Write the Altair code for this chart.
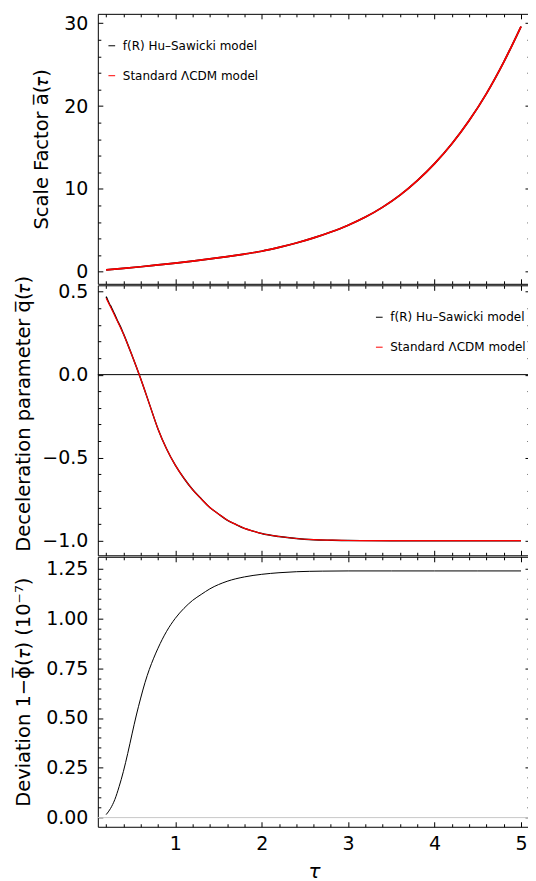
import altair as alt
import pandas as pd

# ---------------- data ----------------
models = ["f(R) Hu\u2013Sawicki model", "Standard \u039bCDM model"]
model_colors = ["black", "red"]

# Panel 1: scale factor a(tau)
tau_a = [0.2, 0.4, 0.6, 0.8, 1.0, 1.2, 1.4, 1.6, 1.8, 2.0, 2.2, 2.4, 2.6,
         2.8, 3.0, 3.2, 3.4, 3.6, 3.8, 4.0, 4.2, 4.4, 4.6, 4.8, 5.0]
a_lcdm = [0.22, 0.40, 0.60, 0.82, 1.04, 1.28, 1.54, 1.82, 2.13, 2.47, 2.93,
          3.46, 4.08, 4.80, 5.62, 6.60, 7.80, 9.25, 11.0, 13.05, 15.45,
          18.25, 21.5, 25.3, 29.6]
a_fr = [0.22, 0.40, 0.60, 0.82, 1.04, 1.28, 1.54, 1.82, 2.13, 2.47, 2.93,
        3.46, 4.08, 4.80, 5.62, 6.60, 7.80, 9.25, 11.0, 13.05, 15.45,
        18.25, 21.5, 25.3, 29.6]

# Panel 2: deceleration parameter q(tau)
tau_q = [0.2, 0.3, 0.4, 0.5, 0.6, 0.7, 0.8, 0.9, 1.0, 1.1, 1.2, 1.3, 1.4,
         1.5, 1.6, 1.7, 1.8, 1.9, 2.0, 2.2, 2.4, 2.6, 2.8, 3.0, 3.5, 4.0,
         4.5, 5.0]
q_lcdm = [0.46, 0.355, 0.245, 0.115, -0.025, -0.176, -0.327, -0.448, -0.545,
          -0.624, -0.692, -0.748, -0.800, -0.839, -0.876, -0.902, -0.926,
          -0.942, -0.957, -0.975, -0.987, -0.994, -0.997, -0.999, -1.0, -1.0,
          -1.0, -1.0]
tau_q_fr = [0.2, 0.22, 0.24, 0.26, 0.28, 0.3, 0.33, 0.36, 0.4, 0.5, 0.6, 0.7,
            0.8, 0.9, 1.0, 1.1, 1.2, 1.3, 1.4, 1.5, 1.6, 1.7, 1.8, 1.9, 2.0,
            2.2, 2.4, 2.6, 2.8, 3.0, 3.5, 4.0, 4.5, 5.0]
q_fr = [0.47, 0.447, 0.424, 0.406, 0.383, 0.362, 0.326, 0.295, 0.247, 0.115,
        -0.025, -0.176, -0.327, -0.448, -0.545, -0.624, -0.692, -0.748, -0.800,
        -0.839, -0.876, -0.902, -0.926, -0.942, -0.957, -0.975, -0.987, -0.994,
        -0.997, -0.999, -1.0, -1.0, -1.0, -1.0]

# Panel 3: deviation 1 - phi(tau), units of 1e-7
tau_dev = [0.2, 0.25, 0.3, 0.35, 0.4, 0.45, 0.5, 0.55, 0.6, 0.65, 0.7, 0.75,
           0.8, 0.9, 1.0, 1.1, 1.2, 1.3, 1.4, 1.6, 1.8, 2.0, 2.2, 2.4, 2.7,
           3.0, 3.5, 4.0, 4.5, 5.0]
dev_fr = [0.015, 0.045, 0.09, 0.155, 0.232, 0.322, 0.42, 0.515, 0.6, 0.678,
          0.744, 0.80, 0.85, 0.935, 1.0, 1.05, 1.09, 1.12, 1.148, 1.186, 1.208,
          1.221, 1.229, 1.234, 1.237, 1.238, 1.238, 1.238, 1.238, 1.238]
zero_line = [0.0]

# ticks
x_major = [1, 2, 3, 4, 5]
x_minor = [0.2, 0.4, 0.6, 0.8, 1.2, 1.4, 1.6, 1.8, 2.2, 2.4, 2.6, 2.8, 3.2,
           3.4, 3.6, 3.8, 4.2, 4.4, 4.6, 4.8]
y1_major = [0, 10, 20, 30]
y1_minor = [2, 4, 6, 8, 12, 14, 16, 18, 22, 24, 26, 28]
y2_major = [-1.0, -0.5, 0.0, 0.5]
y2_minor = [-0.9, -0.8, -0.7, -0.6, -0.4, -0.3, -0.2, -0.1, 0.1, 0.2, 0.3, 0.4]
y3_major = [0.0, 0.25, 0.5, 0.75, 1.0, 1.25]
y3_minor = [0.05, 0.1, 0.15, 0.2, 0.3, 0.35, 0.4, 0.45, 0.55, 0.6, 0.65, 0.7,
            0.8, 0.85, 0.9, 0.95, 1.05, 1.1, 1.15, 1.2]

X_DOMAIN = [0.104, 5.104]
Y1_DOMAIN = [-1.46, 31.13]
Y2_DOMAIN = [-1.088, 0.538]
Y3_DOMAIN = [-0.046, 1.309]

W, H = 433, 270.5
MAJ, MIN = 5, 3
FONT = "DejaVu Sans"
GAP = -14  # absorbs the long rotated title of the middle panel


def ax(orient, values, size, labels=False, fmt=None, title=None, **kw):
    d = dict(orient=orient, values=values, tickSize=size, offset=-size,
             labels=labels, title=title)
    if fmt:
        d["format"] = fmt
    d.update(kw)
    return alt.Axis(**d)


def legend(x, y):
    return alt.Legend(orient="none", legendX=x, legendY=y, title=None,
                      direction="vertical", symbolType="stroke", symbolSize=45,
                      symbolStrokeWidth=1, labelOffset=5, rowPadding=18,
                      padding=0, labelFontSize=12, labelFont=FONT)


def framed_panel(df_main, y_domain, y_major, y_minor, y_fmt, y_title,
                 title_pad, x_labels, data_layers, title_y=None):
    xs = alt.Scale(domain=X_DOMAIN, nice=False, zero=False)
    ys = alt.Scale(domain=y_domain, nice=False, zero=False)
    xt = dict(labels=True, fmt="d", title="\u03c4", titleFontStyle="italic",
              titleFontSize=20, titlePadding=8, labelPadding=8) \
        if x_labels else {}
    yt = dict(labels=True, fmt=y_fmt, title=y_title, titlePadding=title_pad)
    if title_y is not None:
        yt["titleY"] = title_y
    specs = [
        (ax("bottom", x_major, MAJ, **xt), ax("left", y_major, MAJ, **yt)),
        (ax("bottom", x_minor, MIN), ax("left", y_minor, MIN)),
        (ax("top", x_major, MAJ), ax("right", y_major, MAJ)),
        (ax("top", x_minor, MIN), ax("right", y_minor, MIN)),
    ]
    tick_layers = [
        alt.Chart(df_main).mark_line(strokeOpacity=0).encode(
            x=alt.X("tau:Q", scale=xs, axis=xa),
            y=alt.Y("value:Q", scale=ys, axis=ya),
        )
        for xa, ya in specs
    ]
    layers = tick_layers + [lay(xs, ys) for lay in data_layers]
    return alt.layer(*layers).resolve_axis(x="independent", y="independent") \
        .properties(width=W, height=H)


def line_layer(df, width, leg, color_value=None):
    def make(xs, ys):
        enc = dict(x=alt.X("tau:Q", scale=xs, axis=None),
                   y=alt.Y("value:Q", scale=ys, axis=None))
        if leg is not None:
            enc["color"] = alt.Color("model:N",
                                     scale=alt.Scale(domain=models,
                                                     range=model_colors),
                                     legend=leg)
            return alt.Chart(df).mark_line(strokeWidth=width,
                                           interpolate="monotone").encode(**enc)
        return alt.Chart(df).mark_line(strokeWidth=width, color=color_value,
                                       interpolate="monotone").encode(**enc)
    return make


def zero_layer(color):
    def make(xs, ys):
        return alt.Chart(pd.DataFrame({"value": zero_line})).mark_rule(
            color=color, strokeWidth=1).encode(
            y=alt.Y("value:Q", scale=ys, axis=None))
    return make


# panel 1
df_a_fr = pd.DataFrame({"tau": tau_a, "value": a_fr, "model": models[0]})
df_a_l = pd.DataFrame({"tau": tau_a, "value": a_lcdm, "model": models[1]})
leg1 = legend(8, 26)
p1 = framed_panel(df_a_l, Y1_DOMAIN, y1_major, y1_minor, "d",
                  "Scale Factor a\u0305(\U0001D70F)", 12, False,
                  [line_layer(df_a_fr, 1.7, leg1), line_layer(df_a_l, 1.7, leg1)])

# panel 2
df_q_fr = pd.DataFrame({"tau": tau_q_fr, "value": q_fr, "model": models[0]})
df_q_l = pd.DataFrame({"tau": tau_q, "value": q_lcdm, "model": models[1]})
leg2 = legend(276, 26)
p2 = framed_panel(df_q_l, Y2_DOMAIN, y2_major, y2_minor, ".1f",
                  "Deceleration parameter q\u0305(\U0001D70F)", 8, False,
                  [zero_layer("black"), line_layer(df_q_fr, 1.4, leg2),
                   line_layer(df_q_l, 1.2, leg2)], title_y=H / 2 - 7)

# panel 3
df_dev = pd.DataFrame({"tau": tau_dev, "value": dev_fr})
p3 = framed_panel(df_dev, Y3_DOMAIN, y3_major, y3_minor, ".2f",
                  "Deviation 1\u2212\u03d5\u0305(\U0001D70F) (10\u207b\u2077)", 12, True,
                  [zero_layer("#c8c8c8"), line_layer(df_dev, 1.0, None, "black")])

chart = alt.vconcat(p1, p2, p3, spacing=GAP).resolve_scale(
    color="independent").resolve_legend(color="independent").properties(
    padding={"left": 5, "top": 4, "right": -3, "bottom": 0}
).configure_concat(spacing=GAP).configure_view(
    stroke="black", strokeWidth=1).configure_axis(
    labelFont=FONT, titleFont=FONT, labelFontSize=19, titleFontSize=19.5,
    titleFontWeight="normal", labelColor="black", titleColor="black",
    tickColor="black", tickWidth=1, domain=False, grid=False,
    labelFlush=False, labelPadding=10, labelOverlap=False
).configure_legend(labelFont=FONT, labelFontSize=12, labelColor="black")

chart.save("out.html", embed_options={"renderer": "svg", "actions": False})
